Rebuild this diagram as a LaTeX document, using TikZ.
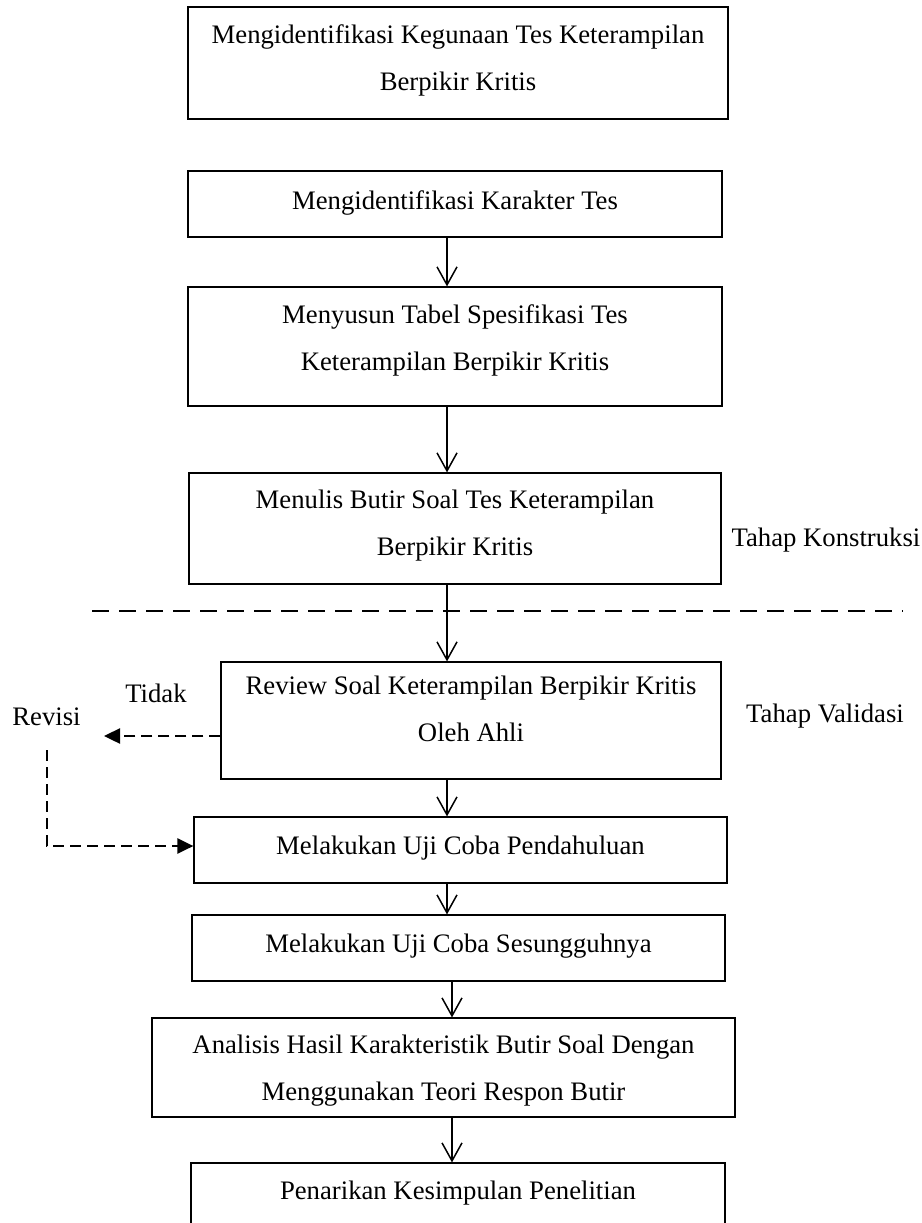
\documentclass[tikz,border=0pt]{standalone}
\usepackage{fontspec}
\setmainfont{Liberation Serif}
\usetikzlibrary{arrows.meta}
\begin{document}
\begin{tikzpicture}[x=1pt,y=-1pt,
  box/.style={draw, line width=1.2pt, rectangle, inner sep=0pt},
  txt/.style={align=center, inner sep=0pt, font=\fontsize{26.7}{47}\selectfont},
  arr/.style={line width=1.5pt, -{Straight Barb[length=18pt,width=20pt]}},
  darr/.style={line width=2.4pt, dash pattern=on 11pt off 6pt, -{Triangle[length=16pt,width=15pt]}},
  sep/.style={line width=2pt, dash pattern=on 17pt off 10pt}]
\clip (0,0) rectangle (921,1223);
\fill[white] (0,0) rectangle (921,1223);

% boxes
\node[box, minimum width=540pt, minimum height=112pt] (b1) at (458,63) {};
\node[box, minimum width=534pt, minimum height=66pt] (b2) at (455,204) {};
\node[box, minimum width=534pt, minimum height=119pt] (b3) at (455,346.5) {};
\node[box, minimum width=532pt, minimum height=111pt] (b4) at (455,528.5) {};
\node[box, minimum width=500pt, minimum height=117pt] (b5) at (471,720.5) {};
\node[box, minimum width=533pt, minimum height=66pt] (b6) at (460.5,850) {};
\node[box, minimum width=533pt, minimum height=66pt] (b7) at (458.5,948) {};
\node[box, minimum width=583pt, minimum height=99pt] (b8) at (443.5,1067.5) {};
\node[box, minimum width=534pt, minimum height=100pt] (b9) at (458,1213) {};

% texts
\node[txt] (t1) at (458,60) {Mengidentifikasi Kegunaan Tes Keterampilan\\Berpikir Kritis};
\node[txt] (t2) at (455,203) {Mengidentifikasi Karakter Tes};
\node[txt] (t3) at (455,340) {Menyusun Tabel Spesifikasi Tes\\Keterampilan Berpikir Kritis};
\node[txt] (t4) at (455,526) {Menulis Butir Soal Tes Keterampilan\\Berpikir Kritis};
\node[txt] (t5) at (471,709) {Review Soal Keterampilan Berpikir Kritis\\Oleh Ahli};
\node[txt] (t6) at (460.5,848) {Melakukan Uji Coba Pendahuluan};
\node[txt] (t7) at (458.5,946) {Melakukan Uji Coba Sesungguhnya};
\node[txt] (t8) at (443.5,1071) {Analisis Hasil Karakteristik Butir Soal Dengan\\Menggunakan Teori Respon Butir};
\node[txt] (t9) at (458,1193) {Penarikan Kesimpulan Penelitian};

\node[txt] (k) at (826,540) {Tahap Konstruksi};
\node[txt] (v) at (825,716) {Tahap Validasi};
\node[txt] (tidak) at (156,693) {Tidak};
\node[txt] (revisi) at (46.5,717) {Revisi};

% separator
\coordinate (s1) at (92,611);
\coordinate (s2) at (903,611);
\draw[sep] (s1) -- (s2);

% arrows
\coordinate (ax) at (447,0);
\coordinate (bx) at (452,0);
\draw[arr] (b2.south -| ax) -- (b3.north -| ax);
\draw[arr] (b3.south -| ax) -- (b4.north -| ax);
\draw[arr] (b4.south -| ax) -- (b5.north -| ax);
\draw[arr] (b5.south -| ax) -- (b6.north -| ax);
\draw[arr] (b6.south -| ax) -- (b7.north -| ax);
\draw[arr] (b7.south -| bx) -- (b8.north -| bx);
\draw[arr] (b8.south -| bx) -- (b9.north -| bx);

% revision loop
\coordinate (r1) at (104,736);
\coordinate (r2) at (47,750);
\coordinate (r3) at (0,846);
\draw[darr] (b5.west |- r1) -- (r1);
\draw[darr] (r2) |- (b6.west |- r3);
\end{tikzpicture}
\end{document}
